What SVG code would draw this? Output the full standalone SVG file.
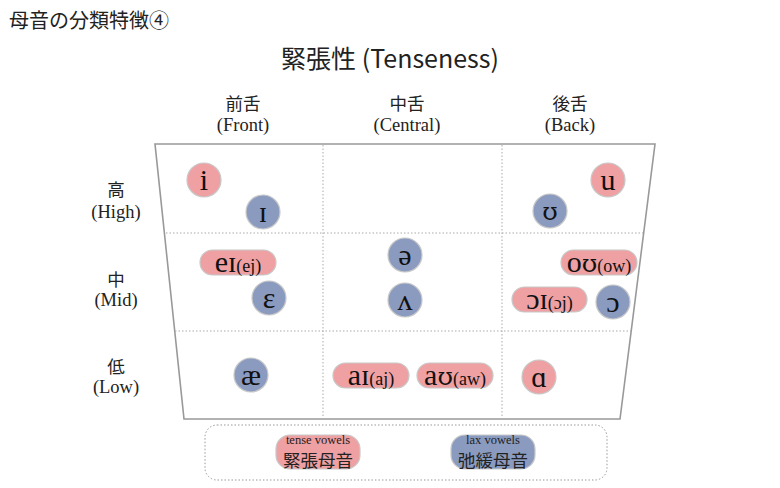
<svg xmlns="http://www.w3.org/2000/svg" width="780" height="488" viewBox="0 0 780 488">
<style>
.jp{font-family:"Noto Sans CJK JP","Noto Sans",sans-serif;fill:#222}
.en{font-family:"Liberation Serif","DejaVu Serif",serif;fill:#222}
.tense{fill:#efa0a2;stroke:#c8c8c8;stroke-width:1.2}
.lax{fill:#8b9bc0;stroke:#c8c8c8;stroke-width:1.2}
.ipa{font-family:"Liberation Serif","DejaVu Serif",serif;font-size:30px;fill:#111;text-anchor:middle}
.sm{font-size:18px}
.up{font-family:"DejaVu Serif",serif;font-size:25px}
.grid{stroke:#aaa;stroke-width:1;stroke-dasharray:1.5 2;fill:none}
.hdr{font-size:17.5px;text-anchor:middle}
.hen{font-size:18.5px;text-anchor:middle}
</style>
<rect width="780" height="488" fill="#fff"/>
<text class="jp" x="9" y="28" font-size="20">母音の分類特徴④</text>
<text class="jp" x="390" y="68" font-size="25" text-anchor="middle">緊張性 (Tenseness)</text>

<g id="headers">
<text class="jp hdr" x="243" y="110">前舌</text>
<text class="en hen" x="243" y="131">(Front)</text>
<text class="jp hdr" x="407" y="110">中舌</text>
<text class="en hen" x="407" y="131">(Central)</text>
<text class="jp hdr" x="570" y="110">後舌</text>
<text class="en hen" x="570" y="131">(Back)</text>
<text class="jp hdr" x="116" y="196">高</text>
<text class="en hen" x="116" y="218">(High)</text>
<text class="jp hdr" x="116" y="286">中</text>
<text class="en hen" x="116" y="306">(Mid)</text>
<text class="jp hdr" x="116" y="373">低</text>
<text class="en hen" x="116" y="393">(Low)</text>
</g>

<g id="connectors">
<polygon points="155,144 655,144 620,419 184,419" fill="none" stroke="#999" stroke-width="1.6"/>
<line class="grid" x1="323" y1="145" x2="323" y2="418"/>
<line class="grid" x1="502" y1="145" x2="502" y2="418"/>
<line class="grid" x1="166" y1="233" x2="643" y2="233"/>
<line class="grid" x1="175" y1="331" x2="631" y2="331"/>
</g>

<g id="v-i"><circle class="tense" cx="204" cy="180" r="17"/><text class="ipa" x="204" y="190">i</text></g>
<g id="v-I"><circle class="lax" cx="263" cy="212" r="17"/><text class="ipa" x="263" y="222">ɪ</text></g>
<g id="v-ei"><rect class="tense" x="200" y="250" width="76" height="25" rx="12.5"/><text class="ipa" x="238" y="272">eɪ<tspan class="sm">(ej)</tspan></text></g>
<g id="v-E"><circle class="lax" cx="269" cy="298" r="17"/><text class="ipa" x="269" y="308">ɛ</text></g>
<g id="v-ae"><circle class="lax" cx="251" cy="375" r="17"/><text class="ipa" x="251" y="385">æ</text></g>

<g id="v-schwa"><circle class="lax" cx="405" cy="255" r="17"/><text class="ipa" x="405" y="265">ə</text></g>
<g id="v-wedge"><circle class="lax" cx="405" cy="300" r="17"/><text class="ipa" x="405" y="310">ʌ</text></g>
<g id="v-ai"><rect class="tense" x="333" y="363" width="76" height="25" rx="12.5"/><text class="ipa" x="371" y="385">aɪ<tspan class="sm">(aj)</tspan></text></g>
<g id="v-au"><rect class="tense" x="417" y="363" width="76" height="25" rx="12.5"/><text class="ipa" x="455" y="385">a<tspan class="up">ʊ</tspan><tspan class="sm">(aw)</tspan></text></g>

<g id="v-u"><circle class="tense" cx="608" cy="180" r="17"/><text class="ipa" x="608" y="190">u</text></g>
<g id="v-U"><circle class="lax" cx="550" cy="211" r="17"/><text class="ipa up" x="550" y="220">ʊ</text></g>
<g id="v-ou"><rect class="tense" x="561" y="250" width="76" height="25" rx="12.5"/><text class="ipa" x="599" y="272">o<tspan class="up">ʊ</tspan><tspan class="sm">(ow)</tspan></text></g>
<g id="v-oi"><rect class="tense" x="512" y="287" width="75" height="25" rx="12.5"/><text class="ipa" x="549.5" y="309">ɔɪ<tspan class="sm">(ɔj)</tspan></text></g>
<g id="v-o"><circle class="lax" cx="613" cy="302" r="17"/><text class="ipa" x="613" y="312">ɔ</text></g>
<g id="v-a"><circle class="tense" cx="539" cy="377" r="17"/><text class="ipa" x="539" y="387">ɑ</text></g>

<g id="legend">
<rect x="205" y="425" width="402" height="55" rx="12" fill="none" stroke="#999" stroke-width="1" stroke-dasharray="1.5 2"/>
<g id="leg-tense"><rect class="tense" x="276" y="435" width="84" height="34" rx="14"/>
<text class="en" x="318" y="444" font-size="12.5" text-anchor="middle">tense vowels</text>
<text class="jp" x="318" y="467" font-size="17.5" text-anchor="middle">緊張母音</text></g>
<g id="leg-lax"><rect class="lax" x="451" y="435" width="84" height="34" rx="14"/>
<text class="en" x="493" y="444" font-size="12.5" text-anchor="middle">lax vowels</text>
<text class="jp" x="493" y="467" font-size="17.5" text-anchor="middle">弛緩母音</text></g>
</g>
</svg>
